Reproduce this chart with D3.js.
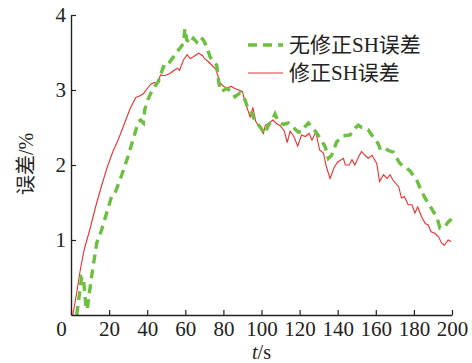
<!DOCTYPE html>
<html><head><meta charset="utf-8">
<script src="https://cdn.jsdelivr.net/npm/d3@7"></script>
<style>
html,body{margin:0;padding:0;background:#fff;}
svg text{font-family:"Liberation Serif","Noto Sans CJK SC",serif;fill:#222;}
</style>
</head><body>
<svg id="c" width="472" height="363"></svg>
<script>
const xTicks = [0,20,40,60,80,100,120,140,160,180,200];
const yTicks = [1,2,3,4];
const seriesNames = ["无修正SH误差","修正SH误差"];

// 无修正SH误差 (green dashed)
const greenT = [3,5.6,6.5,8,8.5,10.8,13.5,16,18.7,21.3,23,25.7,27.5,30,32,35.4,36.5,38,38.8,40.5,42.3,44,45.8,47,48.5,50,52,54,55.5,57,59,59.8,60.7,62.5,64.2,65.9,67.7,69.4,71.2,73,74.7,76.5,77.3,78.2,79,81.7,84.4,86.1,88.7,91.3,93.1,94.8,96.6,99.2,101.8,103.6,105.5,107.1,108.8,111.5,114.1,116.7,119.3,121.1,122.5,124.6,127.2,130.7,133.3,135.1,136.8,139.5,143,146.5,149.1,150.8,152.6,154.3,156,157.8,159.6,161.3,162.5,164.8,167,169.2,172.7,175.5,178,181.5,183.5,185.8,188,190.2,192,193.7,196.3,198,199.8];
const greenV = [0,0.51,0.5,0.07,0.08,0.51,0.96,1.13,1.36,1.58,1.62,1.8,1.93,2.12,2.29,2.58,2.6,2.56,2.75,2.88,2.98,3.05,3.11,3.2,3.31,3.3,3.38,3.45,3.51,3.55,3.62,3.82,3.67,3.62,3.69,3.64,3.71,3.67,3.58,3.44,3.38,3.33,3.16,3.0,2.98,3.02,2.98,2.91,2.96,2.87,2.74,2.69,2.59,2.51,2.42,2.53,2.6,2.68,2.58,2.54,2.56,2.5,2.44,2.44,2.5,2.56,2.49,2.36,2.25,2.09,2.13,2.31,2.39,2.4,2.49,2.53,2.5,2.49,2.47,2.4,2.35,2.28,2.2,2.22,2.19,2.17,2.02,1.97,1.92,1.8,1.68,1.56,1.47,1.38,1.31,1.16,1.18,1.24,1.28];

// 修正SH误差 (red solid)
const redT = [1,3,5,7,10,13,16,19,22,25,28,31,34,36,38,40,42,44,45,47,49,52,54,56,57,59,61,62.5,64,67,69,70,72,74,76,77,78,80,82,84,86,88,90,91,93,94,95.5,97,99,101,102,104,106,108,110,112,113.5,115,117,119,121,123,125,126.5,128.5,130.5,132.5,134,136,138,140,143,144,146,147.5,149,151,152.5,154.3,156,158,160.5,162,164,166,167.5,169,172,173.5,175,177,179,180.5,182,184,186,187.5,189,191,193,194.5,196,198,199.5];
const redV = [0,0.3,0.62,0.88,1.15,1.45,1.72,1.97,2.18,2.35,2.55,2.75,2.9,2.92,2.95,3.02,3.08,3.1,3.06,3.2,3.19,3.22,3.26,3.29,3.26,3.4,3.47,3.42,3.44,3.49,3.46,3.42,3.38,3.33,3.28,3.2,3.1,3.05,3.02,3.05,3.02,3.0,2.98,2.87,2.72,2.64,2.76,2.58,2.5,2.42,2.53,2.56,2.6,2.55,2.52,2.45,2.3,2.45,2.38,2.25,2.4,2.38,2.42,2.33,2.44,2.2,2.16,1.98,1.82,1.96,2.04,2.09,2.0,2.0,2.07,2.0,2.11,2.18,2.13,2.09,2.13,2.02,1.78,1.87,1.82,1.87,1.8,1.71,1.56,1.58,1.47,1.47,1.36,1.44,1.31,1.22,1.2,1.11,1.09,1.04,0.96,0.93,1.0,0.98];

const svg = d3.select("#c");
const x = d3.scaleLinear().domain([0,200]).range([71,452]);
const y = d3.scaleLinear().domain([0,4]).range([315,15]);

const line = d3.line().x(d=>x(d[0])).y(d=>y(d[1]));
const green = greenT.map((t,i)=>[t,greenV[i]]);
const red = redT.map((t,i)=>[t,redV[i]]);

svg.append("path").attr("d", line(red)).attr("fill","none")
  .attr("stroke","#ee3030").attr("stroke-width",1.1);
svg.append("path").attr("d", line(green)).attr("fill","none")
  .attr("stroke","#6cbf3f").attr("stroke-width",3.4).attr("stroke-dasharray","9,6");

// axes
const xAxis = svg.append("g").attr("transform","translate(0,315)")
  .call(d3.axisBottom(x).tickValues(xTicks).tickFormat(d3.format("d")).tickSizeInner(-5).tickSizeOuter(0).tickPadding(6));
const yAxis = svg.append("g").attr("transform","translate(71,0)")
  .call(d3.axisLeft(y).tickValues(yTicks).tickFormat(d3.format("d")).tickSizeInner(-5).tickSizeOuter(0).tickPadding(5));
[xAxis,yAxis].forEach(g=>{
  g.select(".domain").attr("stroke","#222").attr("stroke-width",1.4);
  g.selectAll(".tick line").attr("stroke","#222").attr("stroke-width",1.2);
  g.selectAll(".tick text").attr("font-size",21).attr("font-family","Liberation Serif").attr("fill","#222");
});
xAxis.selectAll(".tick text").attr("dy","0.71em").attr("dx", d => d === 0 ? -10 : 0);
yAxis.selectAll(".tick text").attr("dy","0.33em");

// axis titles
const xl = svg.append("text").attr("x",x(100)).attr("y",358.5).attr("text-anchor","middle").attr("font-size",20);
xl.append("tspan").attr("font-style","italic").text("t");
xl.append("tspan").text("/s");
svg.append("text").attr("transform","translate(33,164) rotate(-90)")
  .attr("text-anchor","middle").attr("font-size",20).text("误差/%");

// legend
const lg = svg.append("g");
lg.append("line").attr("x1",248).attr("x2",283).attr("y1",45).attr("y2",45)
  .attr("stroke","#6cbf3f").attr("stroke-width",3.4).attr("stroke-dasharray","9,6");
lg.append("line").attr("x1",248).attr("x2",283).attr("y1",73).attr("y2",73)
  .attr("stroke","#ee3030").attr("stroke-width",1.1);
lg.append("text").attr("x",289).attr("y",45).attr("dy","0.35em").attr("font-size",21).text(seriesNames[0]);
lg.append("text").attr("x",289).attr("y",73).attr("dy","0.35em").attr("font-size",21).text(seriesNames[1]);
</script>
</body></html>
